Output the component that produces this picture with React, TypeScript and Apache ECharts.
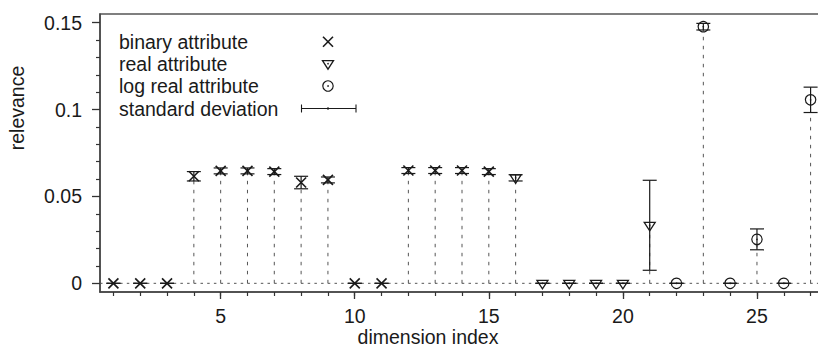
import React, { useEffect, useRef } from "react";
import * as echarts from "echarts";

// ---- data ----
const binaryIdx = [1, 2, 3, 4, 5, 6, 7, 8, 9, 10, 11, 12, 13, 14, 15];
const binaryVal = [0, 0, 0, 0.0616, 0.0647, 0.0647, 0.0643, 0.058, 0.0595, 0, 0, 0.0649, 0.0649, 0.0649, 0.0643];
const binaryStd = [0, 0, 0, 0.0027, 0.0017, 0.0017, 0.0017, 0.0036, 0.0017, 0, 0, 0.0017, 0.0017, 0.0017, 0.0017];

const realIdx = [16, 17, 18, 19, 20, 21];
const realVal = [0.0607, 0, 0, 0, 0, 0.0334];
const realStd = [0.0018, 0, 0, 0, 0, 0.0259];

const logIdx = [22, 23, 24, 25, 26, 27];
const logVal = [0, 0.1477, 0, 0.0253, 0, 0.1056];
const logStd = [0, 0.0019, 0, 0.006, 0, 0.0073];

const xMajorTicks = [5, 10, 15, 20, 25];
const xMinorTicks = Array.from({ length: 27 }, (_, i) => i + 1);
const yMajorTicks = [0, 0.05, 0.1, 0.15];
const yMinorTicks = [0.01, 0.02, 0.03, 0.04, 0.06, 0.07, 0.08, 0.09, 0.11, 0.12, 0.13, 0.14];

const legendLabels = ["binary attribute", "real attribute", "log real attribute", "standard deviation"];

const FONT_SIZE = 19.5;
const FONT_FAMILY = "'Liberation Sans', Arial, Helvetica, sans-serif";
const FONT = `${FONT_SIZE}px ${FONT_FAMILY}`;
const INK = "#1a1a1a";

function marker(kind: string, cx: number, cy: number): any[] {
  if (kind === "cross") {
    return [
      { type: "line", shape: { x1: cx - 5, y1: cy - 5, x2: cx + 5, y2: cy + 5 }, style: { stroke: INK, lineWidth: 1.6 } },
      { type: "line", shape: { x1: cx - 5, y1: cy + 5, x2: cx + 5, y2: cy - 5 }, style: { stroke: INK, lineWidth: 1.6 } },
    ];
  }
  if (kind === "tri") {
    return [
      {
        type: "polygon",
        shape: { points: [[cx - 5.5, cy - 3], [cx + 5.5, cy - 3], [cx, cy + 5.5]] },
        style: { fill: "none", stroke: INK, lineWidth: 1.3 },
      },
      { type: "circle", shape: { cx, cy, r: 0.8 }, style: { fill: INK } },
    ];
  }
  return [
    { type: "circle", shape: { cx, cy, r: 5.2 }, style: { fill: "none", stroke: INK, lineWidth: 1.2 } },
    { type: "circle", shape: { cx, cy, r: 0.8 }, style: { fill: INK } },
  ];
}

function makeSeries(name: string, idx: number[], val: number[], std: number[], kind: string) {
  return {
    name,
    type: "custom",
    xAxisIndex: 0,
    yAxisIndex: 0,
    z: 3,
    encode: { x: 0, y: 1 },
    data: idx.map((x, i) => [x, val[i], std[i]]),
    renderItem: (params: any, api: any) => {
      const x = api.value(0);
      const v = api.value(1);
      const e = api.value(2);
      const p = api.coord([x, v]);
      const p0 = api.coord([x, 0]);
      const pt = api.coord([x, v + e]);
      const pb = api.coord([x, v - e]);
      const children: any[] = [];
      if (v !== 0) {
        children.push({
          type: "line",
          shape: { x1: p0[0], y1: p0[1], x2: p[0], y2: p[1] },
          style: { stroke: "#555", lineWidth: 1, lineDash: [3.5, 5.5] },
        });
      }
      children.push(
        { type: "line", shape: { x1: p[0], y1: pt[1], x2: p[0], y2: pb[1] }, style: { stroke: INK, lineWidth: 1.2 } },
        { type: "line", shape: { x1: p[0] - 7, y1: pt[1], x2: p[0] + 7, y2: pt[1] }, style: { stroke: INK, lineWidth: 1.2 } },
        { type: "line", shape: { x1: p[0] - 7, y1: pb[1], x2: p[0] + 7, y2: pb[1] }, style: { stroke: INK, lineWidth: 1.2 } }
      );
      children.push(...marker(kind, p[0], p[1]));
      return { type: "group", children };
    },
  };
}

function legendGraphics(): any[] {
  const rows = [41.7, 63.7, 86, 108.5];
  const mx = 328;
  const g: any[] = [];
  legendLabels.forEach((t, i) => {
    g.push({
      type: "text",
      x: 119,
      y: rows[i],
      style: { text: t, font: FONT, fill: INK, align: "left", verticalAlign: "middle" },
    });
  });
  g.push(...marker("cross", mx, rows[0]));
  g.push(...marker("tri", mx, rows[1]));
  g.push(...marker("circle", mx, rows[2]));
  const y = rows[3];
  g.push(
    { type: "line", shape: { x1: 301.5, y1: y, x2: 356, y2: y }, style: { stroke: INK, lineWidth: 1.1 } },
    { type: "line", shape: { x1: 301.5, y1: y - 4, x2: 301.5, y2: y + 4 }, style: { stroke: INK, lineWidth: 1.1 } },
    { type: "line", shape: { x1: 356, y1: y - 4, x2: 356, y2: y + 4 }, style: { stroke: INK, lineWidth: 1.1 } },
    { type: "line", shape: { x1: 328, y1: y - 1.5, x2: 328, y2: y + 1.5 }, style: { stroke: INK, lineWidth: 1 } }
  );
  return g;
}

export default function App() {
  const ref = useRef<HTMLDivElement>(null);
  useEffect(() => {
    if (!ref.current) return;
    const chart = echarts.init(ref.current, undefined, { renderer: "svg" });
    const axisLineStyle = { color: "#444", width: 1.5 };
    const option: any = {
      animation: false,
      backgroundColor: "#fff",
      grid: {
        show: true,
        left: 100,
        right: -6,
        top: 14,
        bottom: 57,
        borderColor: "#555",
        borderWidth: 1.5,
        containLabel: false,
        outerBoundsMode: "none",
      },
      xAxis: [
        {
          type: "value",
          min: 0.5,
          max: 27.5,
          position: "bottom",
          axisLine: { show: true, onZero: false, lineStyle: axisLineStyle },
          axisTick: { show: true, customValues: xMajorTicks, length: 7, lineStyle: { color: "#333", width: 1.3 } },
          axisLabel: {
            customValues: xMajorTicks,
            margin: 14,
            color: INK,
            fontSize: FONT_SIZE,
            fontFamily: FONT_FAMILY,
          },
          splitLine: { show: false },
        },
        {
          type: "value",
          min: 0.5,
          max: 27.5,
          position: "bottom",
          axisLine: { show: false, onZero: false },
          axisTick: { show: true, customValues: xMinorTicks, length: 4, lineStyle: { color: "#333", width: 1.2 } },
          axisLabel: { show: false },
          splitLine: { show: false },
        },
      ],
      yAxis: [
        {
          type: "value",
          min: -0.005,
          max: 0.155,
          position: "left",
          axisLine: { show: true, onZero: false, lineStyle: axisLineStyle },
          axisTick: { show: true, customValues: yMajorTicks, length: 8, lineStyle: { color: "#333", width: 1.3 } },
          axisLabel: {
            customValues: yMajorTicks,
            margin: 18,
            color: INK,
            fontSize: FONT_SIZE,
            fontFamily: FONT_FAMILY,
            formatter: (v: number) => String(v),
          },
          splitLine: { show: false },
        },
        {
          type: "value",
          min: -0.005,
          max: 0.155,
          position: "left",
          axisLine: { show: false, onZero: false },
          axisTick: { show: true, customValues: yMinorTicks, length: 4, lineStyle: { color: "#333", width: 1.2 } },
          axisLabel: { show: false },
          splitLine: { show: false },
        },
      ],
      series: [
        {
          name: "zero",
          type: "line",
          xAxisIndex: 0,
          yAxisIndex: 0,
          symbol: "none",
          z: 1,
          data: [
            [0.5, 0],
            [27.5, 0],
          ],
          lineStyle: { color: "#555", width: 1, type: [2.5, 4.2] },
        },
        makeSeries("binary attribute", binaryIdx, binaryVal, binaryStd, "cross"),
        makeSeries("real attribute", realIdx, realVal, realStd, "tri"),
        makeSeries("log real attribute", logIdx, logVal, logStd, "circle"),
      ],
      graphic: [
        ...legendGraphics(),
        {
          type: "text",
          x: 17,
          y: 108,
          rotation: Math.PI / 2,
          style: { text: "relevance", font: FONT, fill: INK, align: "center", verticalAlign: "middle" },
        },
        {
          type: "text",
          x: 428,
          y: 337,
          style: { text: "dimension index", font: FONT, fill: INK, align: "center", verticalAlign: "middle" },
        },
      ],
    };
    chart.setOption(option);
    return () => chart.dispose();
  }, []);
  return (
    <div
      ref={ref}
      style={{ position: "fixed", left: 0, top: 0, width: 818, height: 349, background: "#fff" }}
    />
  );
}
